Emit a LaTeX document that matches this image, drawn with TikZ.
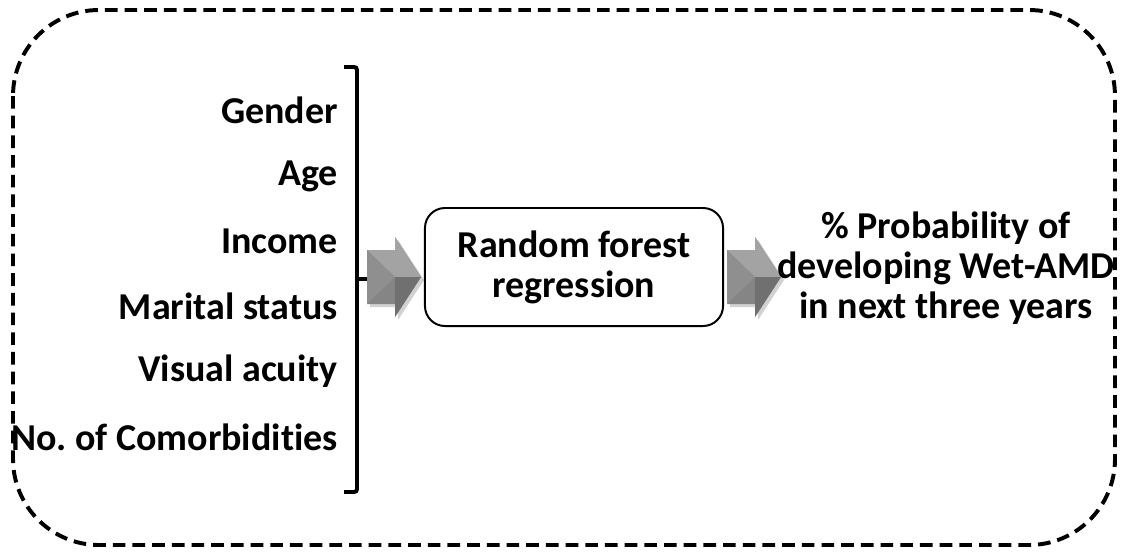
\documentclass[tikz,border=0pt]{standalone}
\usepackage{fontspec}
\setmainfont{Carlito}[Ligatures=NoCommon]
\usetikzlibrary{positioning, calc}
\definecolor{cdark}{HTML}{000000}
\tikzset{
  every picture/.style={font=\bfseries\fontsize{27}{28.5}\selectfont},
  label/.style={anchor=east, inner sep=0pt},
  rbox/.style={draw=cdark, line width=1.4pt, rounded corners=0.5cm, minimum width=7.45cm, minimum height=2.95cm, align=center, inner sep=0pt},
  frame/.style={draw=cdark, line width=2.8pt, dash pattern=on 9pt off 5pt, rounded corners=2.15cm},
  brace/.style={draw=cdark, line width=2.8pt, rounded corners=2pt},
  chevron/.pic={
    \fill[black, opacity=0.18] (3,-24) -- (31,-24) -- (31,-37) -- (57,3) -- (31,43) -- (31,30) -- (3,30) -- cycle;
    \fill[black!48] (0,-27) -- (28,-27) -- (28,-40) -- (54,0) -- (28,40) -- (28,27) -- (0,27) -- cycle;
    \fill[black!36] (0,-27) -- (28,-27) -- (28,-40) -- (54,0) -- (28,0) -- cycle;
    \fill[black!56] (28,0) -- (54,0) -- (28,40) -- (28,27) -- cycle;
    \fill[black!44] (0,-27) -- (28,0) -- (0,27) -- cycle;
  },
}
\begin{document}
\frenchspacing
\begin{tikzpicture}[x=0.025cm, y=-0.025cm]
  \useasboundingbox (0,0) rectangle (1127,555);
  % outer frame
  \draw[frame] (13,10) rectangle (1115,545);
  % input variables
  \node[label] (gender) at (338,110) {Gender};
  \node[label] (age) at (338,176) {Age};
  \node[label] (income) at (338,241) {Income};
  \node[label] (marital) at (338,306) {Marital status};
  \node[label] (acuity) at (338,371) {Visual acuity};
  \node[label] (comorb) at (338,437) {No. of Comorbidities};
  % bracket
  \coordinate (btop) at (344,67);
  \coordinate (bbot) at (344,492);
  \coordinate (bmid) at (357,279);
  \draw[brace] (btop) -- (357,67) -- (357,492) -- (bbot);
  \draw[draw=cdark, line width=2.8pt] (bmid) -- ++(10,0);
  % model
  \node[rbox] (model) at (574,267) {Random forest\\regression};
  \pic at (367,277) {chevron};
  \pic at (727,277) {chevron};
  % outcome
  \node[align=center, inner sep=0pt] (outcome) at (946,268) {\% Probability of\\developing Wet-AMD\\in next three years};
\end{tikzpicture}
\end{document}
